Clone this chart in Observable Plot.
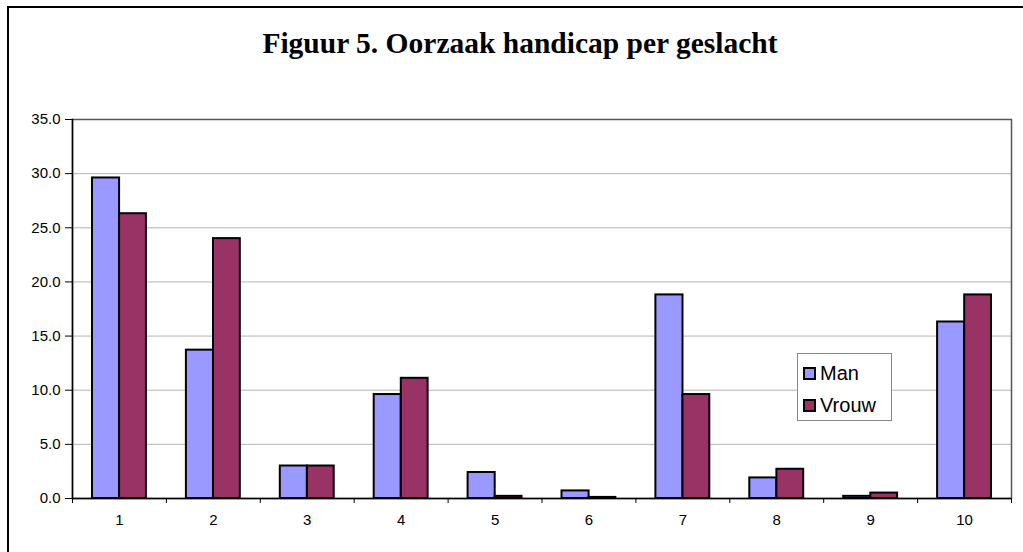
<!DOCTYPE html>
<html>
<head>
<meta charset="utf-8">
<script src="https://cdn.jsdelivr.net/npm/d3@7"></script>
<script src="https://cdn.jsdelivr.net/npm/@observablehq/plot@0.6"></script>
<style>
  body { margin: 0; background: #fff; }
  #wrap { position: relative; width: 1023px; height: 552px; overflow: hidden; background: #fff; }
  #border { position: absolute; left: 7px; top: 6px; width: 1100px; height: 600px; border-left: 2px solid #000; border-top: 2px solid #000; }
  #title { position: absolute; left: 0; top: 29px; width: 1040px; text-align: center; font-family: "Liberation Serif", "Times New Roman", serif; font-weight: bold; font-size: 29.5px; line-height: 29px; color: #000; }
  #chart { position: absolute; left: 0; top: 0; }
  #chart svg text { font-family: Arial, "Liberation Sans", sans-serif !important; font-size: 15px !important; }
  #legend { position: absolute; left: 797px; top: 353px; width: 95px; height: 68px; box-sizing: border-box; border: 1px solid #888; background: #fff; padding-top: 3px; padding-left: 5px; font-family: Arial, "Liberation Sans", sans-serif; font-size: 20px; color: #000; }
  .row { display: flex; align-items: center; height: 32px; }
  .sw { width: 13px; height: 13px; box-sizing: border-box; border: 2px solid #000; margin-right: 4px; }
</style>
</head>
<body>
<div id="wrap">
  <div id="border"></div>
  <div id="title">Figuur 5. Oorzaak handicap per geslacht</div>
  <div id="chart"></div>
  <div id="legend"></div>
</div>
<script>
const categories = ["1", "2", "3", "4", "5", "6", "7", "8", "9", "10"];
const seriesNames = ["Man", "Vrouw"];
const seriesColors = ["#9999FF", "#993366"];
const manValues = [29.6, 13.7, 3.0, 9.6, 2.4, 0.7, 18.8, 1.9, 0.2, 16.3];
const vrouwValues = [26.3, 24.0, 3.0, 11.1, 0.2, 0.1, 9.6, 2.7, 0.5, 18.8];
const yTicks = [0, 5, 10, 15, 20, 25, 30, 35];

const rows = [];
categories.forEach((c, i) => {
  rows.push({cat: c, series: "Man", value: manValues[i]});
  rows.push({cat: c, series: "Vrouw", value: vrouwValues[i]});
});

const W = 1023, H = 552, mL = 72, mR = 12, mT = 119, mB = 54;
const step = (W - mL - mR) / categories.length;
const gap = step * 0.213;
const bw = step * 0.2885;

const chart = Plot.plot({
  width: W, height: H,
  marginLeft: mL, marginRight: mR, marginTop: mT, marginBottom: mB,
  style: {fontFamily: "Arial, 'Liberation Sans', sans-serif", fontSize: "15px", color: "#000", background: "transparent", overflow: "visible"},
  x: {domain: categories, padding: 0, round: false, label: null},
  y: {domain: [0, 35], label: null},
  marks: [
    Plot.gridY(yTicks, {stroke: "#b4b4b4", strokeOpacity: 1}),
    Plot.frame({stroke: "#555", strokeWidth: 1.5}),
    Plot.barY(rows.filter(d => d.series === "Man"), {x: "cat", y: "value", fill: seriesColors[0], stroke: "#000", strokeWidth: 2, insetLeft: gap, insetRight: step - gap - bw}),
    Plot.barY(rows.filter(d => d.series === "Vrouw"), {x: "cat", y: "value", fill: seriesColors[1], stroke: "#000", strokeWidth: 2, insetLeft: gap + bw, insetRight: gap}),
    Plot.ruleY([0], {stroke: "#000", strokeWidth: 1.5}),
    Plot.frame({anchor: "left", stroke: "#000", strokeWidth: 1.5}),
    Plot.axisY({ticks: yTicks, tickFormat: d => d.toFixed(1), tickSize: 7, tickPadding: 5, label: null}),
    Plot.axisX({ticks: categories, tickFormat: () => "", tickSize: 5, dx: -step / 2, label: null}),
    Plot.axisX({ticks: [categories[categories.length - 1]], tickFormat: () => "", tickSize: 5, dx: step / 2, label: null}),
    Plot.axisX({ticks: categories, tickSize: 0, tickPadding: 16, label: null})
  ]
});
document.getElementById("chart").appendChild(chart);

const legend = document.getElementById("legend");
seriesNames.forEach((name, i) => {
  const row = document.createElement("div");
  row.className = "row";
  const sw = document.createElement("span");
  sw.className = "sw";
  sw.style.background = seriesColors[i];
  const t = document.createElement("span");
  t.textContent = name;
  row.appendChild(sw);
  row.appendChild(t);
  legend.appendChild(row);
});
</script>
</body>
</html>
